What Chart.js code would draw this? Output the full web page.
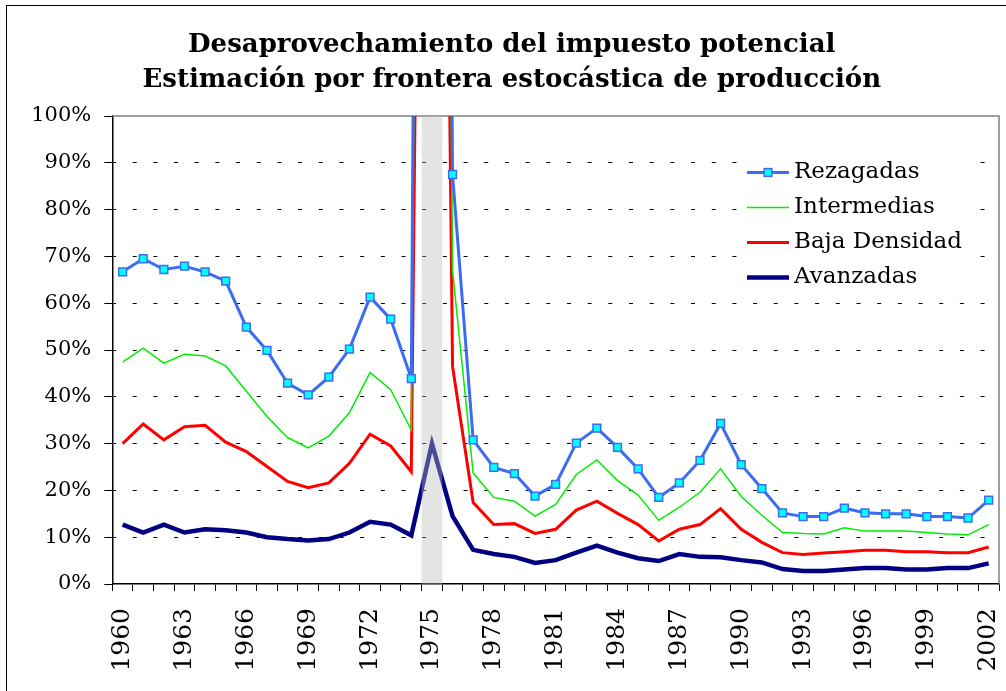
<!DOCTYPE html>
<html>
<head>
<meta charset="utf-8">
<script src="https://cdn.jsdelivr.net/npm/chart.js@4.4.0/dist/chart.umd.min.js"></script>
<style>
  html, body { margin: 0; padding: 0; background: #ffffff; }
  canvas { display: block; }
</style>
</head>
<body>
<canvas id="chart" width="1006" height="691"></canvas>
<script>
// ---------------- DATA ----------------
const years = ['1960','1961','1962','1963','1964','1965','1966','1967','1968','1969',
  '1970','1971','1972','1973','1974','1975','1976','1977','1978','1979',
  '1980','1981','1982','1983','1984','1985','1986','1987','1988','1989',
  '1990','1991','1992','1993','1994','1995','1996','1997','1998','1999',
  '2000','2001','2002'];

const shownYearLabels = ['1960','1963','1966','1969','1972','1975','1978','1981',
  '1984','1987','1990','1993','1996','1999','2002'];

const yTickValues = [0,10,20,30,40,50,60,70,80,90,100];

const highlightedYear = '1975';

const rezagadas = [66.7, 69.5, 67.2, 67.9, 66.7, 64.7, 54.9, 49.9, 42.9, 40.4,
  44.2, 50.2, 61.3, 56.6, 43.9, 700, 87.5, 30.8, 24.9, 23.6,
  18.8, 21.3, 30.1, 33.3, 29.2, 24.6, 18.5, 21.6, 26.4, 34.3,
  25.5, 20.4, 15.2, 14.4, 14.4, 16.2, 15.2, 15.0, 15.0, 14.4,
  14.4, 14.1, 17.9];

const intermedias = [47.4, 50.4, 47.2, 49.1, 48.7, 46.6, 41.2, 35.8, 31.3, 29.1,
  31.6, 36.6, 45.2, 41.5, 32.9, 600, 67.0, 23.7, 18.5, 17.7,
  14.5, 17.0, 23.4, 26.5, 22.1, 19.0, 13.6, 16.4, 19.6, 24.6,
  18.7, 14.7, 11.0, 10.8, 10.7, 12.0, 11.3, 11.3, 11.3, 11.0,
  10.7, 10.5, 12.7];

const bajaDensidad = [30.0, 34.2, 30.8, 33.6, 33.9, 30.3, 28.3, 25.1, 21.9, 20.6,
  21.6, 25.8, 32.0, 29.5, 24.0, 450, 46.5, 17.4, 12.7, 12.9,
  10.8, 11.7, 15.8, 17.7, 15.1, 12.7, 9.2, 11.7, 12.7, 16.1,
  11.7, 8.9, 6.7, 6.3, 6.6, 6.9, 7.2, 7.2, 6.9, 6.9,
  6.7, 6.7, 7.9];

const avanzadas = [12.7, 11.0, 12.7, 11.0, 11.7, 11.5, 11.0, 10.0, 9.6, 9.3,
  9.6, 11.0, 13.3, 12.7, 10.4, 30.0, 14.5, 7.3, 6.4, 5.8,
  4.5, 5.1, 6.7, 8.2, 6.7, 5.5, 4.9, 6.4, 5.8, 5.7,
  5.1, 4.6, 3.2, 2.8, 2.8, 3.1, 3.4, 3.4, 3.1, 3.1,
  3.4, 3.4, 4.4];

const titleLines = ['Desaprovechamiento del impuesto potencial',
                    'Estimación por frontera estocástica de producción'];

// ---------------- STYLE ----------------
const FONT = "'DejaVu Serif', 'Liberation Serif', serif";

const framePlugin = {
  id: 'frame',
  beforeDraw(chart) {
    const ctx = chart.ctx;
    ctx.save();
    ctx.fillStyle = '#ffffff';
    ctx.fillRect(0, 0, chart.width, chart.height);
    ctx.strokeStyle = '#000000';
    ctx.lineWidth = 1;
    ctx.strokeRect(6.5, 5.5, chart.width + 20, chart.height + 20);
    ctx.restore();
  },
  beforeDatasetsDraw(chart) {
    const {ctx, chartArea: a} = chart;
    ctx.save();
    ctx.strokeStyle = '#808080';
    ctx.lineWidth = 1.5;
    ctx.beginPath();
    ctx.moveTo(a.left, a.top);
    ctx.lineTo(a.right, a.top);
    ctx.lineTo(a.right, a.bottom);
    ctx.stroke();
    // legend background (hides grid lines behind the legend)
    ctx.fillStyle = '#ffffff';
    ctx.fillRect(738, 146, 235, 149);
    ctx.restore();
  },
  afterDatasetsDraw(chart) {
    const {ctx, chartArea: a, scales: {x}} = chart;
    const i = years.indexOf(highlightedYear);
    const w = x.getPixelForValue(1) - x.getPixelForValue(0);
    const c = x.getPixelForValue(i);
    ctx.save();
    ctx.fillStyle = 'rgba(187,187,187,0.4)';
    ctx.fillRect(c - w / 2, a.top, w, a.bottom - a.top);
    ctx.restore();
  },
  afterDraw(chart) {
    const ctx = chart.ctx;
    const lx0 = 747, lx1 = 789, tx = 794;
    const lineY0 = 172.5, step = 35;
    ctx.save();
    chart.data.datasets.forEach((ds, k) => {
      const y = lineY0 + k * step;
      ctx.strokeStyle = ds.borderColor;
      ctx.lineWidth = ds.borderWidth;
      ctx.beginPath();
      ctx.moveTo(lx0, y);
      ctx.lineTo(lx1, y);
      ctx.stroke();
      if (ds.pointRadius > 0) {
        const s = ds.pointRadius * Math.SQRT1_2;
        ctx.fillStyle = ds.pointBackgroundColor;
        ctx.fillRect((lx0 + lx1) / 2 - s, y - s, 2 * s, 2 * s);
        ctx.lineWidth = ds.pointBorderWidth;
        ctx.strokeStyle = ds.pointBorderColor;
        ctx.strokeRect((lx0 + lx1) / 2 - s, y - s, 2 * s, 2 * s);
      }
      ctx.fillStyle = '#000000';
      ctx.font = '23px ' + FONT;
      ctx.textBaseline = 'alphabetic';
      ctx.textAlign = 'left';
      ctx.fillText(ds.label, tx, y + 5.5);
    });
    ctx.restore();
  }
};

new Chart(document.getElementById('chart'), {
  type: 'line',
  data: {
    labels: years,
    datasets: [
      { label: 'Rezagadas', data: rezagadas, borderColor: '#3b6cf2', backgroundColor: '#00ffff',
        borderWidth: 3, pointStyle: 'rect', pointRadius: 5.5, pointBorderWidth: 1.5,
        pointBackgroundColor: '#00ffff', pointBorderColor: '#3b6cf2', tension: 0 },
      { label: 'Intermedias', data: intermedias, borderColor: '#00ee00', backgroundColor: '#00ee00',
        borderWidth: 1.5, pointRadius: 0, tension: 0 },
      { label: 'Baja Densidad', data: bajaDensidad, borderColor: '#ff0000', backgroundColor: '#ff0000',
        borderWidth: 3, pointRadius: 0, tension: 0 },
      { label: 'Avanzadas', data: avanzadas, borderColor: '#000080', backgroundColor: '#000080',
        borderWidth: 4.5, pointRadius: 0, tension: 0 }
    ]
  },
  options: {
    responsive: false,
    animation: false,
    events: [],
    devicePixelRatio: 1,
    layout: { padding: { left: 22, right: 4.5, top: 0, bottom: 0 } },
    plugins: {
      legend: { display: false },
      tooltip: { enabled: false },
      title: {
        display: true,
        text: titleLines,
        color: '#000000',
        font: { family: FONT, size: 26, weight: 'bold', lineHeight: '35px' },
        padding: { top: 28, bottom: 18 }
      }
    },
    scales: {
      x: {
        type: 'category',
        offset: true,
        ticks: {
          autoSkip: false, maxRotation: 90, minRotation: 90,
          color: '#000000', padding: 17,
          font: { family: FONT, size: 25 },
          callback: (v, i) => shownYearLabels.includes(years[i]) ? years[i] : ''
        },
        grid: { offset: true, drawOnChartArea: false, tickLength: 7, color: '#000000', tickColor: '#000000' },
        border: { display: true, color: '#000000', width: 1.5 },
        afterFit(s) { s.height = 107; s.paddingLeft = 0; s.paddingRight = 0; }
      },
      y: {
        min: 0, max: 100,
        afterBuildTicks(s) { s.ticks = yTickValues.map(v => ({ value: v })); },
        ticks: {
          color: '#000000', padding: 13,
          font: { family: FONT, size: 21 },
          callback: v => v + '%'
        },
        grid: {
          color: c => (c.tick && (c.tick.value === 0 || c.tick.value === 100)) ? 'rgba(0,0,0,0)' : '#000000',
          lineWidth: 1, tickLength: 8, tickColor: '#000000', tickWidth: 1
        },
        border: { display: true, color: '#000000', width: 1.5, dash: [4, 16.68], dashOffset: 1.5 },
        afterFit(s) { s.width = 90.3; s.paddingTop = 0; s.paddingBottom = 0; }
      }
    }
  },
  plugins: [framePlugin]
});
</script>
</body>
</html>
